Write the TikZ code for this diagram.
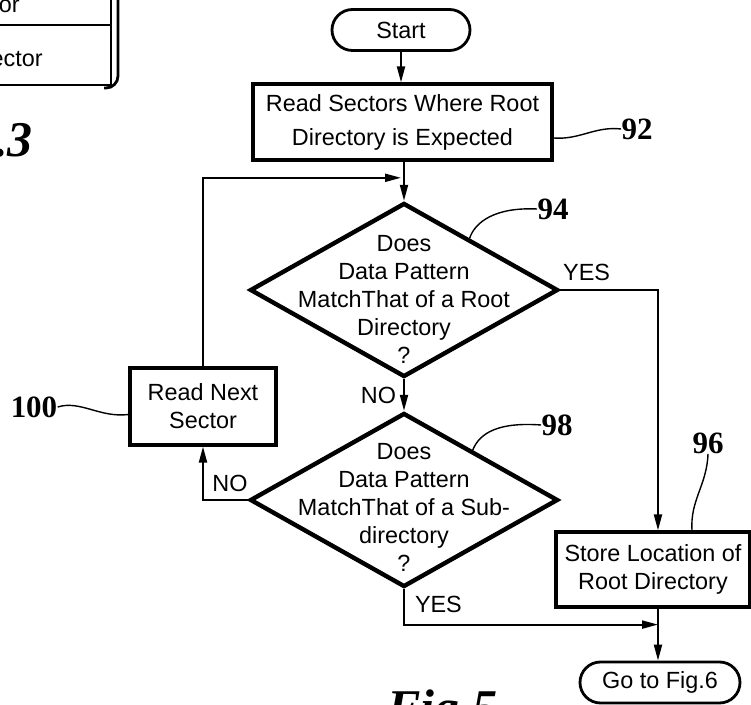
\documentclass[tikz,border=0pt]{standalone}
\usepackage{fontspec}
\setmainfont{Liberation Sans}
\newfontfamily\refnumfont{Liberation Serif}
\usetikzlibrary{arrows.meta, positioning, calc, shapes.geometric, shapes.misc}

\begin{document}
\begin{tikzpicture}[x=0.5pt, y=-0.5pt,
  every node/.style={inner sep=0pt},
  flowtext/.style={font=\fontsize{11.7}{14}\selectfont, align=center},
  procbox/.style={draw, line width=1.6pt, flowtext},
  termbox/.style={draw, rounded rectangle, line width=1.4pt, flowtext},
  decision/.style={draw, diamond, line width=2.2pt, minimum width=154pt, minimum height=87pt},
  refnum/.style={font=\refnumfont\bfseries\fontsize{15.5}{16}\selectfont},
  figtitle/.style={font=\refnumfont\bfseries\itshape\fontsize{25}{26}\selectfont},
  flow/.style={line width=1pt, -{Triangle[length=8pt,width=4pt]}},
  leader/.style={line width=0.7pt}
]
\useasboundingbox (0,0) rectangle (751,705);
\clip (0,0) rectangle (751,705);

% corner of the previous figure's table
\draw[line width=1.4pt] (0,25) -- (111,25);
\draw[line width=1.4pt] (0,85) -- (111,85) -- (111,0);
\draw[line width=1.4pt, rounded corners=6pt] (118,0) -- (118,88) -- (104,88);
\node[flowtext, anchor=base east] (rowa) at (20,13) {tor};
\node[flowtext, anchor=base east] (rowb) at (43,67) {ector};
\node[figtitle, anchor=base east] (fig3) at (33,157) {Fig.3};

% main flow
\node[termbox, minimum width=69pt, minimum height=20.5pt] (start) at (401,30) {Start};
\node[procbox, minimum width=149.5pt, minimum height=38pt,
  font=\fontsize{11.7}{17}\selectfont] (read) at (402.5,122)
  {Read Sectors Where Root\\Directory is Expected};
\node[decision] (dec1) at (404,290) {};
\node[flowtext] (dec1txt) at ($(dec1)+(0,9)$)
  {Does\\Data Pattern\\MatchThat of a Root\\Directory\\?};
\node[decision] (dec2) at (404,500) {};
\node[flowtext] (dec2txt) at ($(dec2)+(0,7)$)
  {Does\\Data Pattern\\MatchThat of a Sub-\\directory\\?};
\node[procbox, minimum width=73pt, minimum height=38.5pt] (next) at (203,406.5) {Read Next\\Sector};
\node[procbox, minimum width=97pt, minimum height=37.5pt] (store) at (653,569.5)
  {Store Location of\\Root Directory};
\node[termbox, minimum width=80pt, minimum height=20.5pt] (goto) at (660,682.5) {Go to Fig.6};

\coordinate (drop) at ($(store.south)+(5,0)$);

\draw[flow] (start.south) -- (start.south |- read.north);
\draw[flow] (dec1.north |- read.south) -- (dec1.north);
\draw[flow] (next.north) |- ($(dec1.north)+(-3,-23)$);
\draw[flow] (dec1.south) -- node[flowtext, left=3.5pt] {NO} (dec2.north);
\draw[flow] (dec1.east) node[flowtext, above right=4pt and 1pt] {YES}
  -| ($(store.north)+(5,0)$);
\draw[flow] (dec2.west) -| (next.south);
\node[flowtext, above right=4pt and 4.5pt] (nolbl) at (next.south |- dec2.west) {NO};
\draw[flow] (dec2.south) node[flowtext, below right=3pt and 5pt] {YES}
  |- ($(drop)+(0,16)$);
\draw[flow] (drop) -- (drop |- goto.north);

% reference numerals
\node[refnum] (ref92) at (637,129) {92};
\node[refnum] (ref94) at (553,209) {94};
\node[refnum] (ref98) at (557,425) {98};
\node[refnum] (ref96) at (708,443) {96};
\node[refnum] (ref100) at (34,407) {100};

\draw[leader] ($(read.east)+(0,16)$) .. controls (580,140) and (595,126) .. (ref92.west);
\draw[leader] ($(dec1.north)!0.42!(dec1.east)$) .. controls (475,222) and (495,207) .. (ref94.west);
\draw[leader] ($(dec2.north)!0.44!(dec2.east)$) .. controls (480,432) and (500,422) .. (ref98.west);
\draw[leader] (ref96.south) .. controls (707,485) and (690,500) .. ($(store.north)+(39,0)$);
\draw[leader] (ref100.east) .. controls (80,400) and (100,418) .. ($(next.west)+(0,8)$);

\node[figtitle, anchor=base west] (fig5) at (387,725) {Fig.5};
\end{tikzpicture}
\end{document}
